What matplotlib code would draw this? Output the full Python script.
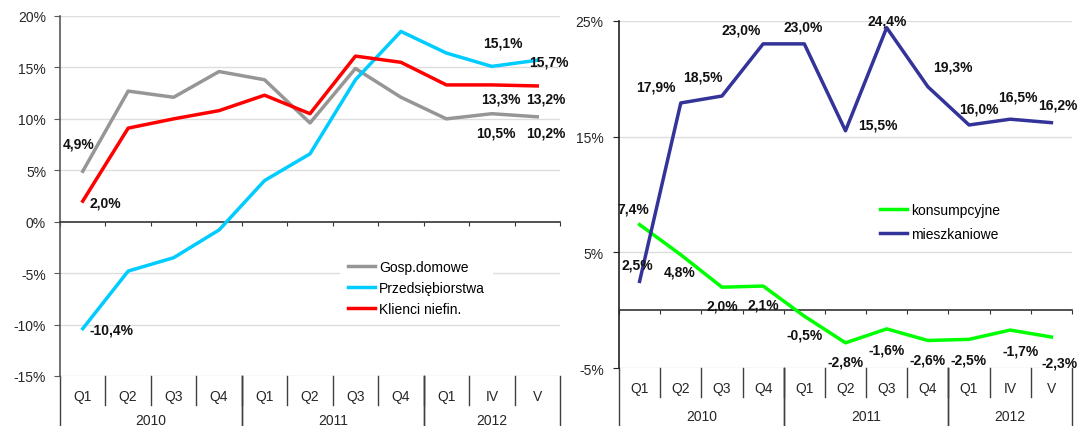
"""Two-panel loan growth chart (households / companies, consumer / housing)."""

import matplotlib.pyplot as plt
from matplotlib.ticker import FuncFormatter

plt.rcParams["font.family"] = ["Liberation Sans", "DejaVu Sans"]
plt.rcParams["font.size"] = 10

CATEGORIES = ["Q1", "Q2", "Q3", "Q4", "Q1", "Q2", "Q3", "Q4", "Q1", "IV", "V"]
YEARS = ["2010", "2011", "2012"]
YEAR_SPANS = [(0, 4), (4, 8), (8, 11)]

GOSP = [4.9, 12.7, 12.1, 14.6, 13.8, 9.6, 14.9, 12.1, 10.0, 10.5, 10.2]
PRZED = [-10.4, -4.8, -3.5, -0.8, 4.0, 6.6, 13.8, 18.5, 16.4, 15.1, 15.7]
KLIENCI = [2.0, 9.1, 10.0, 10.8, 12.3, 10.5, 16.1, 15.5, 13.3, 13.3, 13.2]

KONSUMP = [7.4, 4.8, 2.0, 2.1, -0.5, -2.8, -1.6, -2.6, -2.5, -1.7, -2.3]
MIESZK = [2.5, 17.9, 18.5, 23.0, 23.0, 15.5, 24.4, 19.3, 16.0, 16.5, 16.2]

# label placement: index -> (dx, dy) in pixels, dy measured downwards
LEFT_LABELS = {
    "gosp": {0: (-4, -28), 9: (4, 19), 10: (9, 16)},
    "przed": {0: (29, 1), 9: (11, -24), 10: (12, 1)},
    "klienci": {0: (23, 1), 9: (9, 14), 10: (9, 13)},
}
RIGHT_LABELS = {
    "mieszk": [(-2, -17), (-25, -16), (-19, -20), (-22, -14), (-1, -17), (32, -6),
               (1, -7), (25, -20), (10, -16), (8, -23), (6, -18)],
    "konsump": [(-6, -16), (-1, 17), (0, 18), (0, 18), (0, 18), (0, 19),
                (0, 21), (0, 19), (0, 20), (10, 20), (8, 25)],
}

GRAY = "#969696"
CYAN = "#00CCFF"
RED = "#FF0000"
GREEN = "#00FF00"
NAVY = "#333399"


def fmt_pct(v):
    return f"{v:.1f}".replace(".", ",") + "%"


def label_points(ax, values, offsets):
    for i, (dx, dy) in offsets.items():
        ax.annotate(fmt_pct(values[i]), (i, values[i]), xytext=(dx, -dy),
                    textcoords="offset pixels", ha="center", va="center",
                    fontsize=10, fontweight="bold", color="#111111")


def style_axes(ax, ymin, ymax, step, spine_color, pad, year_drop):
    n = len(CATEGORIES)
    ax.set_xlim(-0.5, n - 0.5)
    ax.set_ylim(ymin, ymax)
    ticks = list(range(ymin, ymax + 1, step))
    ax.set_yticks(ticks)
    ax.yaxis.set_major_formatter(FuncFormatter(lambda v, _: f"{int(v)}%"))
    for t in ticks:
        if t != 0:
            ax.axhline(t, color="#DDDDDD", lw=1, zorder=0)
    ax.spines["top"].set_visible(False)
    ax.spines["right"].set_visible(False)
    ax.spines["left"].set_color(spine_color)
    ax.spines["left"].set_linewidth(1.2)
    ax.spines["bottom"].set_position(("data", 0))
    ax.spines["bottom"].set_color("#333333")
    ax.spines["bottom"].set_linewidth(1.2)
    ax.set_xticks([k - 0.5 for k in range(n + 1)])
    ax.set_xticklabels([])
    ax.tick_params(axis="x", direction="out", length=3, color="#333333")
    ax.tick_params(axis="y", direction="out", length=4, pad=pad, color=spine_color,
                   labelsize=10, labelcolor="#262626")

    # category labels below the plot area
    h = ax.bbox.height
    tr = ax.get_xaxis_transform()
    for i, c in enumerate(CATEGORIES):
        ax.text(i, -20 / h, c, transform=tr, ha="center", va="center",
                fontsize=10, color="#262626", clip_on=False)
    for k in range(1, n):
        ax.plot([k - 0.5, k - 0.5], [0, -29 / h], transform=tr, color="#404040",
                lw=1, clip_on=False)
    for year, (a, b) in zip(YEARS, YEAR_SPANS):
        ax.text((a + b - 1) / 2, -year_drop / h, year, transform=tr, ha="center",
                va="center", fontsize=10, color="#262626", clip_on=False)
        for edge in (a, b):
            ax.plot([edge - 0.5, edge - 0.5], [0, -80 / h], transform=tr,
                    color="#404040", lw=1, clip_on=False)


fig = plt.figure(figsize=(10.91, 4.27), dpi=100)

# left panel
ax1 = fig.add_axes([60 / 1091, 1 - 377 / 427, 500 / 1091, 360 / 427])
style_axes(ax1, -15, 20, 5, "#595959", 6, 44)
x = range(len(CATEGORIES))
ax1.plot(x, GOSP, color=GRAY, lw=2.5, label="Gosp.domowe", zorder=3)
ax1.plot(x, PRZED, color=CYAN, lw=2.5, label="Przedsiębiorstwa", zorder=3)
ax1.plot(x, KLIENCI, color=RED, lw=2.5, label="Klienci niefin.", zorder=3)
label_points(ax1, GOSP, LEFT_LABELS["gosp"])
label_points(ax1, PRZED, LEFT_LABELS["przed"])
label_points(ax1, KLIENCI, LEFT_LABELS["klienci"])
leg = ax1.legend(loc="center", bbox_to_anchor=(0.713, 0.245), frameon=True,
                 facecolor="white", edgecolor="none", framealpha=1, fancybox=False,
                 handlelength=1.9, handletextpad=0.3, labelspacing=0.5,
                 borderpad=0.6, fontsize=10)
leg.set_zorder(2)

# right panel
ax2 = fig.add_axes([619 / 1091, 1 - 369.3 / 427, 453 / 1091, 347.6 / 427])
style_axes(ax2, -5, 25, 10, "#222222", 7, 48)
ax2.plot(x, KONSUMP, color=GREEN, lw=2.5, label="konsumpcyjne", zorder=3)
ax2.plot(x, MIESZK, color=NAVY, lw=2.5, label="mieszkaniowe", zorder=3)
label_points(ax2, MIESZK, dict(enumerate(RIGHT_LABELS["mieszk"])))
label_points(ax2, KONSUMP, dict(enumerate(RIGHT_LABELS["konsump"])))
leg2 = ax2.legend(loc="center", bbox_to_anchor=(0.709, 0.421), frameon=True,
                  facecolor="white", edgecolor="none", framealpha=1, fancybox=False,
                  handlelength=1.9, handletextpad=0.3, labelspacing=0.75,
                  borderpad=0.6, fontsize=10)
leg2.set_zorder(2)

fig.savefig("out.png", dpi=100)
